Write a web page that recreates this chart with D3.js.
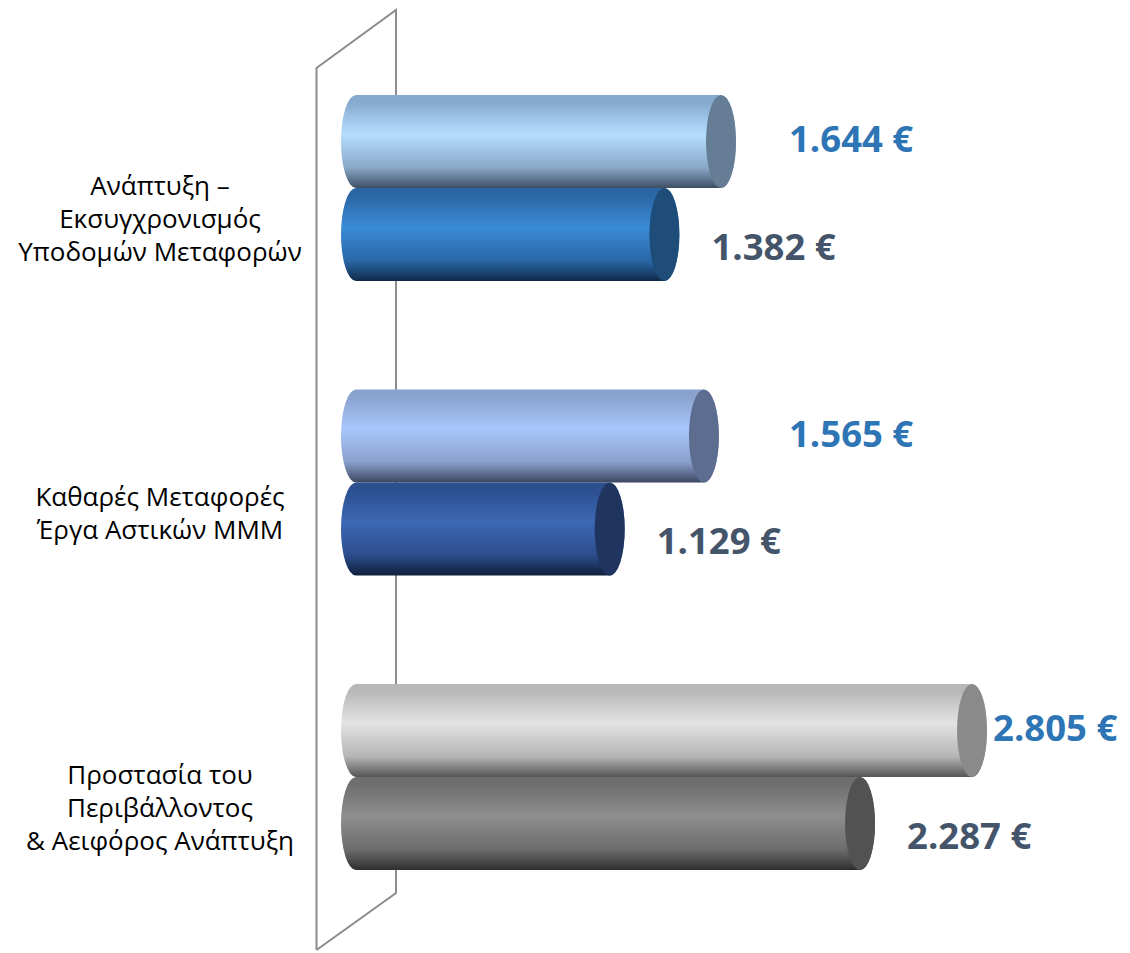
<!DOCTYPE html>
<html lang="el">
<head>
<meta charset="utf-8">
<script src="https://d3js.org/d3.v7.min.js"></script>
<style>
  body { margin: 0; background: #fff; }
  svg { display: block; }
  .cat { font-family: 'Open Sans', sans-serif; font-size: 26px; fill: #000; }
  .val { font-family: 'Open Sans', sans-serif; font-size: 36.5px; font-weight: 700; }
</style>
</head>
<body>
<script>
var width = 1130, height = 953;

// data
var categories = ['infra', 'clean', 'env'];
var categoryLines = [
    ['Ανάπτυξη –', 'Εκσυγχρονισμός', 'Υποδομών Μεταφορών'],
    ['Καθαρές Μεταφορές', 'Έργα Αστικών ΜΜΜ'],
    ['Προστασία του', 'Περιβάλλοντος', '& Αειφόρος Ανάπτυξη']
];
var series = ['A', 'B'];
var valuesA = [1644, 1565, 2805];
var valuesB = [1382, 1129, 2287];

// shading per cylinder [category][series]
var shades = [
    [{top: '#86a9cf', light: '#b5defe', mid: '#8aa8c8', dark: '#3e4f63', cap: '#657d95'},
     {top: '#2a66a3', light: '#3a8bd6', mid: '#2a68a8', dark: '#0e2a48', cap: '#1e4d79'}],
    [{top: '#8aa2cf', light: '#a9c6fb', mid: '#8aa0cc', dark: '#3b4660', cap: '#5d6d8f'},
     {top: '#2b4f8f', light: '#3d68b4', mid: '#2c4e8e', dark: '#101f3c', cap: '#1f355f'}],
    [{top: '#b8b8b8', light: '#e3e3e3', mid: '#b5b5b5', dark: '#555555', cap: '#8a8a8a'},
     {top: '#6e6e6e', light: '#8e8e8e', mid: '#6c6c6c', dark: '#2e2e2e', cap: '#525252'}]
];
var labelColors = {A: '#2e75b6', B: '#44546a'};

var svg = d3.select('body').append('svg').attr('width', width).attr('height', height);
var defs = svg.append('defs');

var x = d3.scaleLinear().domain([0, 3000]).range([365.6, 365.6 + 3000 * 0.2162]);
var y = d3.scaleBand().domain(categories).range([40.75, 924.25])
    .paddingInner(0.368).paddingOuter(0.184);
var ys = d3.scaleBand().domain(series).range([0, y.bandwidth()]);

var rx = 15, baseX = 356;

// back wall
var wall = svg.append('g').attr('fill', 'none').attr('stroke', '#8c8c8c').attr('stroke-width', 2);
wall.append('path').attr('d', 'M316.5,950 L316.5,68 L396,10 L396,893 L316.5,950');

var rows = [];
categories.forEach(function(c, i) {
    rows.push({cat: c, ci: i, s: 'A', v: valuesA[i]});
    rows.push({cat: c, ci: i, s: 'B', v: valuesB[i]});
});

rows.forEach(function(d, k) {
    var sh = shades[d.ci][d.s === 'A' ? 0 : 1];
    var g = defs.append('linearGradient').attr('id', 'g' + k)
        .attr('x1', 0).attr('y1', 0).attr('x2', 0).attr('y2', 1);
    [[0, sh.top], [0.08, sh.top], [0.42, sh.light], [0.78, sh.mid], [1, sh.dark]].forEach(function(s) {
        g.append('stop').attr('offset', s[0]).attr('stop-color', s[1]);
    });
});

var bars = svg.append('g');
rows.forEach(function(d, k) {
    var sh = shades[d.ci][d.s === 'A' ? 0 : 1];
    var top = y(d.cat) + ys(d.s), h = ys.bandwidth(), ry = h / 2;
    var cx = x(d.v), bottom = top + h;
    bars.append('path')
        .attr('d', 'M' + baseX + ',' + top + ' L' + cx + ',' + top +
            ' A' + rx + ',' + ry + ' 0 0 1 ' + cx + ',' + bottom +
            ' L' + baseX + ',' + bottom +
            ' A' + rx + ',' + ry + ' 0 0 1 ' + baseX + ',' + top + 'Z')
        .attr('fill', 'url(#g' + k + ')');
    bars.append('ellipse')
        .attr('cx', cx).attr('cy', top + ry).attr('rx', rx).attr('ry', ry)
        .attr('fill', sh.cap);

    // value labels: B just past the cap, A pushed to a common column unless the bar is longer
    var edge = cx + rx;
    var lx = d.s === 'A' ? Math.max(edge + 6, 789) : edge + 32;
    var ly = top + ry + (d.s === 'A' ? 11 : 25);
    svg.append('text').attr('class', 'val')
        .attr('x', lx).attr('y', ly)
        .attr('fill', labelColors[d.s])
        .text(d3.format(',')(d.v).replace(',', '.') + ' €');
});

// category labels
categories.forEach(function(c, i) {
    var lines = categoryLines[i];
    var mid = y(c) + y.bandwidth() / 2 + 40;
    var lh = 33;
    var t = svg.append('text').attr('class', 'cat').attr('text-anchor', 'middle');
    lines.forEach(function(l, j) {
        t.append('tspan').attr('x', 160)
            .attr('y', mid + (j - (lines.length - 1) / 2) * lh)
            .text(l);
    });
});
</script>
</body>
</html>
